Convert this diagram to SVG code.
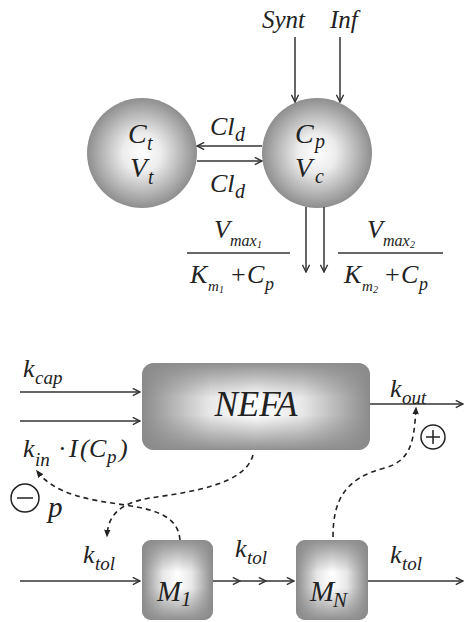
<svg xmlns="http://www.w3.org/2000/svg" width="466" height="622" viewBox="0 0 466 622">
<defs>
<radialGradient id="ball" cx="0.5" cy="0.5" r="0.5">
<stop offset="0" stop-color="#ffffff"/>
<stop offset="0.35" stop-color="#ececec"/>
<stop offset="1" stop-color="#8e8e8e"/>
</radialGradient>
<linearGradient id="hg" x1="0" y1="0" x2="1" y2="0">
<stop offset="0" stop-color="#8a8a8a"/>
<stop offset="0.3" stop-color="#e8e8e8"/>
<stop offset="0.5" stop-color="#ffffff"/>
<stop offset="0.7" stop-color="#e8e8e8"/>
<stop offset="1" stop-color="#8a8a8a"/>
</linearGradient>
<linearGradient id="vg" x1="0" y1="0" x2="0" y2="1">
<stop offset="0" stop-color="#8a8a8a" stop-opacity="0.95"/>
<stop offset="0.4" stop-color="#8a8a8a" stop-opacity="0"/>
<stop offset="0.6" stop-color="#8a8a8a" stop-opacity="0"/>
<stop offset="1" stop-color="#8a8a8a" stop-opacity="0.95"/>
</linearGradient>
<marker id="ah" viewBox="0 0 10 10" refX="9" refY="5" markerWidth="9" markerHeight="9" markerUnits="userSpaceOnUse" orient="auto">
<path d="M1,1 L9,5 L1,9" fill="none" stroke="#333" stroke-width="1.6"/>
</marker>
<marker id="dh" viewBox="0 0 10 10" refX="8" refY="5" markerWidth="8" markerHeight="8" markerUnits="userSpaceOnUse" orient="auto">
<path d="M0,1 L10,5 L0,9 Z" fill="#222"/>
</marker>
</defs>
<style>
.t{font-family:"Liberation Serif","Times New Roman",serif;font-style:italic;fill:#222}
.ln{stroke:#333;stroke-width:1.5;fill:none;marker-end:url(#ah)}
.dl{stroke:#222;stroke-width:1.6;fill:none;stroke-dasharray:5,4;marker-end:url(#dh)}
.sym{fill:none;stroke:#222;stroke-width:1.5}
</style>
<rect width="466" height="622" fill="#ffffff"/>
<g id="ct">
<circle cx="142" cy="153" r="55" fill="url(#ball)"/>
<text class="t" transform="translate(128,143)" font-size="28">C<tspan x="19" dy="7" font-size="20">t</tspan></text>
<text class="t" transform="translate(130,177)" font-size="28">V<tspan x="18" dy="7" font-size="20">t</tspan></text>
</g>
<g id="cp">
<circle cx="317" cy="153" r="55" fill="url(#ball)"/>
<text class="t" transform="translate(295,143)" font-size="28">C<tspan x="20" dy="5" font-size="20">p</tspan></text>
<text class="t" transform="translate(295,177)" font-size="28">V<tspan x="20" dy="6" font-size="20">c</tspan></text>
</g>
<g id="nefa">
<rect x="142" y="363" width="228" height="87" rx="12" fill="url(#hg)"/>
<rect x="142" y="363" width="228" height="87" rx="12" fill="url(#vg)"/>
<text class="t" x="256" y="416" font-size="35" text-anchor="middle">NEFA</text>
</g>
<g id="m1">
<rect x="142" y="540" width="71" height="80" rx="9" fill="url(#hg)"/>
<rect x="142" y="540" width="71" height="80" rx="9" fill="url(#vg)"/>
<text class="t" transform="translate(157,601)" font-size="29">M<tspan x="24" dy="5" font-size="21">1</tspan></text>
</g>
<g id="mn">
<rect x="296" y="540" width="72" height="80" rx="9" fill="url(#hg)"/>
<rect x="296" y="540" width="72" height="80" rx="9" fill="url(#vg)"/>
<text class="t" transform="translate(310,601)" font-size="29">M<tspan x="23" dy="6" font-size="21">N</tspan></text>
</g>

<g id="connectors">
<line class="ln" x1="295" y1="37" x2="295" y2="102"/>
<line class="ln" x1="340" y1="37" x2="340" y2="102"/>
<line class="ln" x1="262" y1="146" x2="197" y2="146"/>
<line class="ln" x1="197" y1="161" x2="262" y2="161"/>
<line class="ln" x1="306" y1="207" x2="306" y2="272"/>
<line class="ln" x1="324" y1="207" x2="324" y2="272"/>
<line class="ln" x1="20" y1="392" x2="140" y2="392"/>
<line class="ln" x1="20" y1="421" x2="140" y2="421"/>
<line class="ln" x1="370" y1="404" x2="463" y2="404"/>
<line class="ln" x1="20" y1="581" x2="140" y2="581"/>
<line class="ln" x1="213" y1="581" x2="240" y2="581"/>
<line class="ln" x1="240" y1="581" x2="266" y2="581"/>
<line class="ln" x1="266" y1="581" x2="294" y2="581"/>
<line class="ln" x1="368" y1="581" x2="463" y2="581"/>
<path class="dl" d="M253,455 C 245,485 190,492 150,498 C 120,503 108,515 107,536"/>
<path class="dl" d="M180,540 C 178,518 160,510 125,505 C 90,500 55,495 37,471"/>
<path class="dl" d="M333,537 C 333,500 345,478 385,468 C 412,460 414,440 416,408"/>
</g>

<g id="labels">
<text class="t" transform="translate(262,28)" font-size="25">Synt</text>
<text class="t" transform="translate(330,28)" font-size="25">Inf</text>
<text class="t" transform="translate(210,135)" font-size="26">Cl<tspan x="25" dy="6" font-size="20">d</tspan></text>
<text class="t" transform="translate(210,192)" font-size="26">Cl<tspan x="25" dy="6" font-size="20">d</tspan></text>
<line x1="187" y1="253" x2="290" y2="253" stroke="#333" stroke-width="1.5"/>
<text class="t" transform="translate(214,238)" font-size="26">V<tspan x="16" dy="8" font-size="16">max</tspan><tspan x="43" dy="2" font-size="10">1</tspan></text>
<text class="t" transform="translate(190,283)" font-size="26">K<tspan x="18" dy="8" font-size="15">m</tspan><tspan x="29" dy="2" font-size="10">1</tspan><tspan x="41" dy="-10" font-style="normal">+</tspan><tspan x="57">C</tspan><tspan x="75" dy="7" font-size="18">p</tspan></text>
<line x1="338" y1="253" x2="443" y2="253" stroke="#333" stroke-width="1.5"/>
<text class="t" transform="translate(367,238)" font-size="26">V<tspan x="16" dy="8" font-size="16">max</tspan><tspan x="43" dy="2" font-size="10">2</tspan></text>
<text class="t" transform="translate(344,283)" font-size="26">K<tspan x="18" dy="8" font-size="15">m</tspan><tspan x="29" dy="2" font-size="10">2</tspan><tspan x="41" dy="-10" font-style="normal">+</tspan><tspan x="57">C</tspan><tspan x="75" dy="7" font-size="18">p</tspan></text>
<text class="t" transform="translate(23,377)" font-size="26">k<tspan x="12" dy="7" font-size="19">cap</tspan></text>
<text class="t" transform="translate(23,457)" font-size="26">k<tspan x="12" dy="9" font-size="19">in</tspan><tspan x="35" dy="-9" font-style="normal">·</tspan><tspan x="46">I</tspan><tspan x="57">(</tspan><tspan x="66">C</tspan><tspan x="84" dy="6" font-size="19">p</tspan><tspan x="96" dy="-6">)</tspan></text>
<text class="t" transform="translate(390,397)" font-size="26">k<tspan x="12" dy="7" font-size="19">out</tspan></text>
<text class="t" transform="translate(83,563)" font-size="26">k<tspan x="12" dy="7" font-size="19">tol</tspan></text>
<text class="t" transform="translate(235,557)" font-size="26">k<tspan x="12" dy="7" font-size="19">tol</tspan></text>
<text class="t" transform="translate(390,563)" font-size="26">k<tspan x="12" dy="7" font-size="19">tol</tspan></text>
<text class="t" transform="translate(48,517)" font-size="29">p</text>
<circle class="sym" cx="433" cy="437" r="12"/>
<path class="sym" d="M426,437 H440 M433,430 V444"/>
<circle class="sym" cx="25" cy="498" r="14"/>
<path class="sym" d="M17,498 H33"/>
</g>
</svg>
